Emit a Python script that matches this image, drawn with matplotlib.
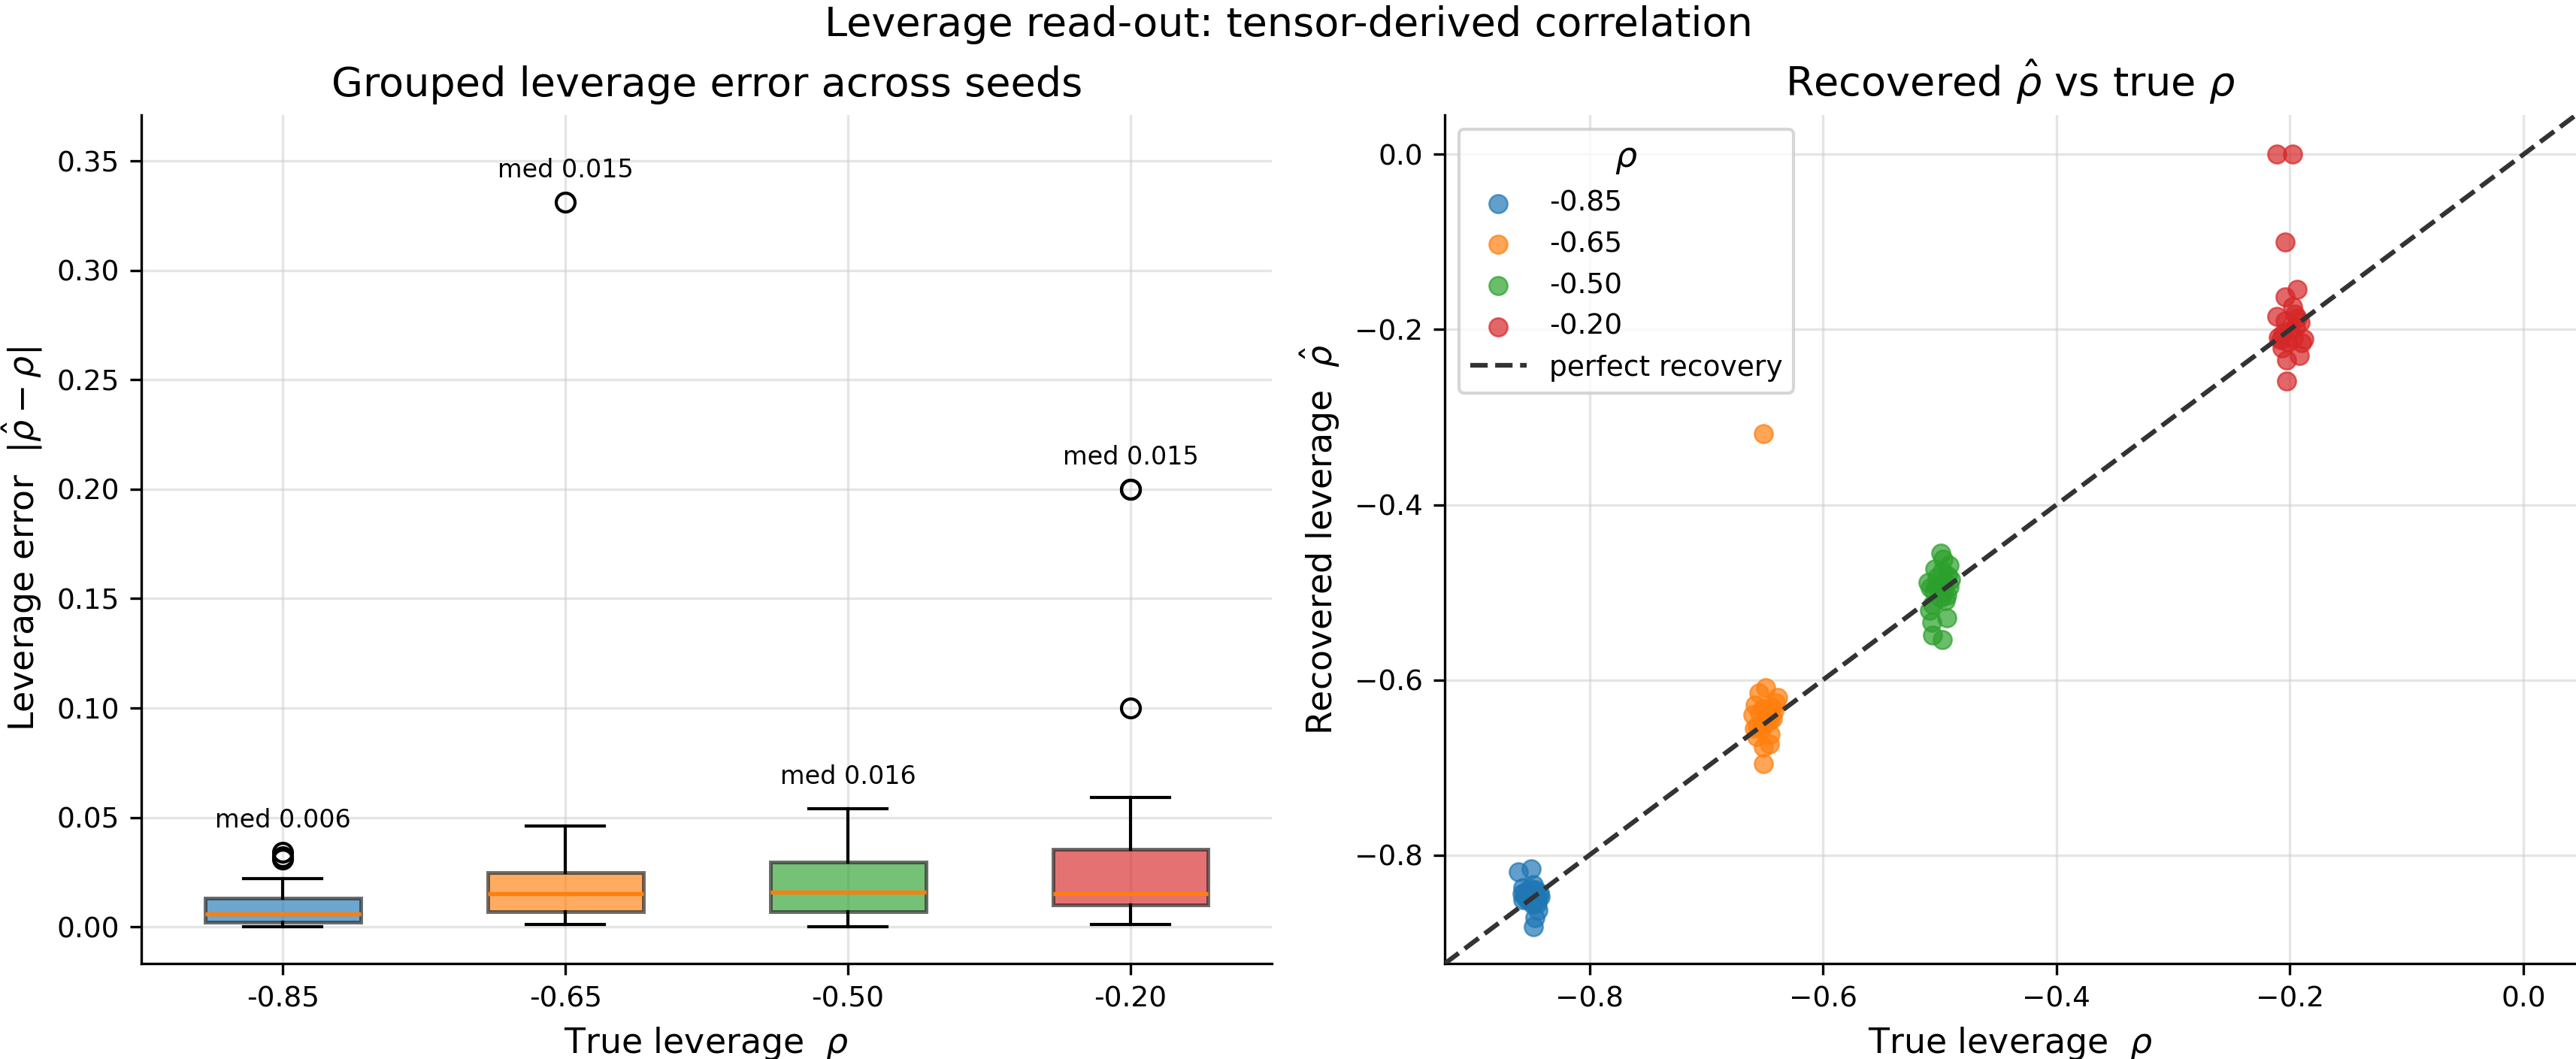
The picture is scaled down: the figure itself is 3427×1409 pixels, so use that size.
import numpy as np
import matplotlib
matplotlib.use('Agg')
import matplotlib.pyplot as plt

# true leverage values (one group per value)
true_rho = [-0.85, -0.65, -0.50, -0.20]
colors = ['#1f77b4', '#ff7f0e', '#2ca02c', '#d62728']

# recovered leverage per seed
rec_085 = [-0.850, -0.850, -0.849, -0.851, -0.848, -0.852, -0.848, -0.847,
           -0.854, -0.845, -0.855, -0.844, -0.856, -0.843, -0.842, -0.840,
           -0.838, -0.863, -0.837, -0.834, -0.872, -0.819, -0.882, -0.816]
rec_065 = [-0.649, -0.653, -0.646, -0.655, -0.644, -0.656, -0.643, -0.640,
           -0.662, -0.637, -0.636, -0.665, -0.635, -0.633, -0.631, -0.629,
           -0.673, -0.626, -0.677, -0.620, -0.615, -0.609, -0.696, -0.319]
rec_050 = [-0.500, -0.498, -0.503, -0.495, -0.506, -0.494, -0.493, -0.509,
           -0.489, -0.488, -0.514, -0.485, -0.483, -0.481, -0.521, -0.476,
           -0.473, -0.529, -0.469, -0.534, -0.462, -0.455, -0.549, -0.554]
rec_020 = [-0.201, -0.197, -0.205, -0.192, -0.209, -0.210, -0.190, -0.211,
           -0.212, -0.187, -0.214, -0.215, -0.185, -0.182, -0.221, -0.174,
           -0.230, -0.235, -0.163, -0.154, -0.259, -0.100, 0.000, 0.000]

# horizontal jitter used in the scatter panel
jit_085 = [0.002, -0.004, 0.006, -0.007, 0.004, -0.002, 0.008, -0.006,
           0.003, -0.003, 0.005, -0.008, 0.001, 0.007, -0.005, 0.004,
           -0.001, 0.006, -0.007, 0.002, 0.003, -0.011, 0.002, 0.000]
jit_065 = [0.001, -0.006, 0.004, -0.009, 0.007, -0.003, 0.002, -0.010,
           0.005, -0.004, 0.008, -0.007, 0.003, -0.002, 0.006, -0.008,
           0.004, 0.009, -0.001, 0.011, -0.005, 0.001, -0.001, -0.001]
jit_050 = [0.003, -0.005, 0.006, -0.008, 0.001, 0.008, -0.003, 0.005,
           -0.010, 0.004, -0.006, 0.009, -0.002, 0.007, -0.009, 0.002,
           -0.004, 0.006, 0.008, -0.007, 0.003, 0.001, -0.006, 0.002]
jit_020 = [0.000, 0.005, -0.006, 0.009, -0.010, 0.003, -0.004, 0.012,
           -0.008, 0.006, -0.002, 0.010, -0.011, 0.004, -0.007, 0.002,
           0.008, -0.003, -0.004, 0.006, -0.003, -0.004, -0.011, 0.002]

recovered = [rec_085, rec_065, rec_050, rec_020]
jitter = [jit_085, jit_065, jit_050, jit_020]
errors = [np.abs(np.array(r) - t) for r, t in zip(recovered, true_rho)]
labels = [f"{t:.2f}" for t in true_rho]

fig = plt.figure(figsize=(3428 / 300, 1409 / 300), dpi=300)
ax1 = fig.add_axes([0.0549, 0.0901, 0.4387, 0.8013])
ax2 = fig.add_axes([0.5607, 0.0901, 0.4390, 0.8013])

# left: boxplot of absolute error
bp = ax1.boxplot(errors, positions=[1, 2, 3, 4], widths=0.55, patch_artist=True,
                 medianprops=dict(color='#ff7f0e', linewidth=1.3),
                 whiskerprops=dict(color='black', linewidth=1.0),
                 capprops=dict(color='black', linewidth=1.0),
                 flierprops=dict(marker='o', markerfacecolor='none',
                                 markeredgecolor='black', markersize=6))
for patch, c in zip(bp['boxes'], colors):
    patch.set_facecolor(c)
    patch.set_alpha(0.65)
    patch.set_edgecolor('#222222')
    patch.set_linewidth(1.2)
for i, e in enumerate(errors):
    ax1.text(i + 1, e.max() + 0.009, f"med {np.median(e):.3f}",
             ha='center', va='bottom', fontsize=8)
ax1.set_xticks([1, 2, 3, 4])
ax1.set_xticklabels(labels)
ax1.set_xlim(0.5, 4.5)
ax1.set_ylim(-0.0168, 0.371)
ax1.set_title('Grouped leverage error across seeds', fontsize=13)
ax1.set_xlabel(r'True leverage  $\rho$', fontsize=11)
ax1.set_ylabel(r'Leverage error  $|\hat{\rho} - \rho|$', fontsize=11)
ax1.grid(True, color='#cccccc', alpha=0.5, linewidth=0.8)
ax1.set_axisbelow(True)

# right: recovered vs true
for t, r, j, c, lab in zip(true_rho, recovered, jitter, colors, labels):
    ax2.scatter(np.array(j) + t, r, s=34, color=c, alpha=0.7,
                edgecolors=c, linewidths=0.6, label=lab, zorder=3)
lo, hi = -0.924, 0.045
ax2.plot([lo, hi], [lo, hi], '--', color='#333333', linewidth=1.5,
         label='perfect recovery', zorder=4)
ax2.set_xlim(lo, hi)
ax2.set_ylim(lo, hi)
ax2.set_title(r'Recovered $\hat{\rho}$ vs true $\rho$', fontsize=13)
ax2.set_xlabel(r'True leverage  $\rho$', fontsize=11)
ax2.set_ylabel(r'Recovered leverage  $\hat{\rho}$', fontsize=11)
ax2.grid(True, color='#cccccc', alpha=0.5, linewidth=0.8)
ax2.set_axisbelow(True)
ax2.legend(title=r'$\rho$', loc='upper left', fontsize=9, title_fontsize=11)

for ax in (ax1, ax2):
    ax.spines['top'].set_visible(False)
    ax.spines['right'].set_visible(False)
    ax.tick_params(labelsize=9)

fig.suptitle('Leverage read-out: tensor-derived correlation', fontsize=13, y=0.995)
fig.savefig('out.png', dpi=300)
